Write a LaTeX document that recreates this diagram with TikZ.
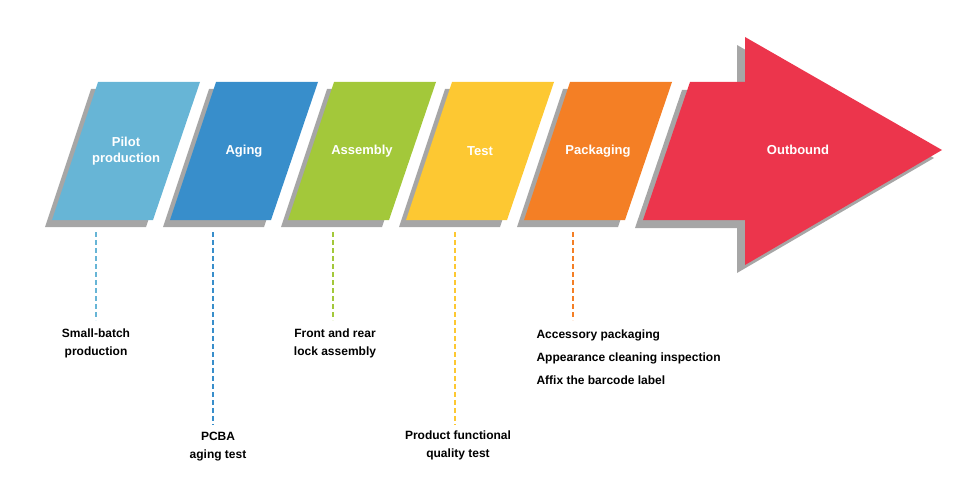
\documentclass[tikz,border=0pt]{standalone}
\usepackage{fontspec}
\setmainfont{Liberation Sans}
\begin{document}
\begin{tikzpicture}[x=1pt,y=-1pt,
  shad/.style={fill=black!35,draw=none},
  lbl/.style={text=white,font=\bfseries\fontsize{13}{16}\selectfont,align=center},
  captxt/.style={font=\bfseries\fontsize{12}{18}\selectfont,align=center},
  dl/.style={line width=1.6pt,dash pattern=on 5pt off 3pt}]
\useasboundingbox (0,0) rectangle (960,484);
\definecolor{c1}{HTML}{67B5D6}\definecolor{c2}{HTML}{388ECB}
\definecolor{c3}{HTML}{A3C83A}\definecolor{c4}{HTML}{FDC832}
\definecolor{c5}{HTML}{F47F25}\definecolor{c6}{HTML}{EC354C}
% arrow
\fill[shad] (682,90) -- (737,90) -- (737,45) -- (934,158) -- (737,273) -- (737,228) -- (635,228) -- cycle;
\fill[c6] (690,82) -- (745,82) -- (745,37) -- (942,150) -- (745,265) -- (745,220) -- (643,220) -- cycle;
\node[lbl] (out) at (798,150) {Outbound};
\foreach \i/\c/\t/\lx in {0/c1/{Pilot\\production}/a,1/c2/Aging/b,2/c3/Assembly/c,3/c4/Test/d,4/c5/Packaging/e}{
  \pgfmathsetmacro{\dx}{118*\i}
  \fill[shad,xshift=\dx] (91,89) -- (193,89) -- (146,227) -- (45,227) -- cycle;
  \fill[\c,xshift=\dx] (98,82) -- (200,82) -- (153,220) -- (52,220) -- cycle;
  \node[lbl] (\lx) at (126+\dx,151) {\t};
}
\coordinate (t1) at (96,232); \coordinate (b1) at (96,320);
\coordinate (t2) at (213,232); \coordinate (b2) at (213,425);
\coordinate (t3) at (333,232); \coordinate (b3) at (333,320);
\coordinate (t4) at (455,232); \coordinate (b4) at (455,425);
\coordinate (t5) at (573,232); \coordinate (b5) at (573,320);
\draw[dl,c1] (t1) -- (b1);
\draw[dl,c2] (t2) -- (b2);
\draw[dl,c3] (t3) -- (b3);
\draw[dl,c4] (t4) -- (b4);
\draw[dl,c5] (t5) -- (b5);
\node[captxt] (l1) at (96,343) {Small-batch\\production};
\node[captxt] (l2) at (218,447) {PCBA\\aging test};
\node[captxt] (l3) at (335,343) {Front and rear\\lock assembly};
\node[captxt] (l4) at (458,445) {Product functional\\quality test};
\node[captxt,anchor=west,align=left,font=\bfseries\fontsize{12}{23}\selectfont] (l5) at (533,357) {Accessory packaging\\Appearance cleaning inspection\\Affix the barcode label};
\end{tikzpicture}
\end{document}
